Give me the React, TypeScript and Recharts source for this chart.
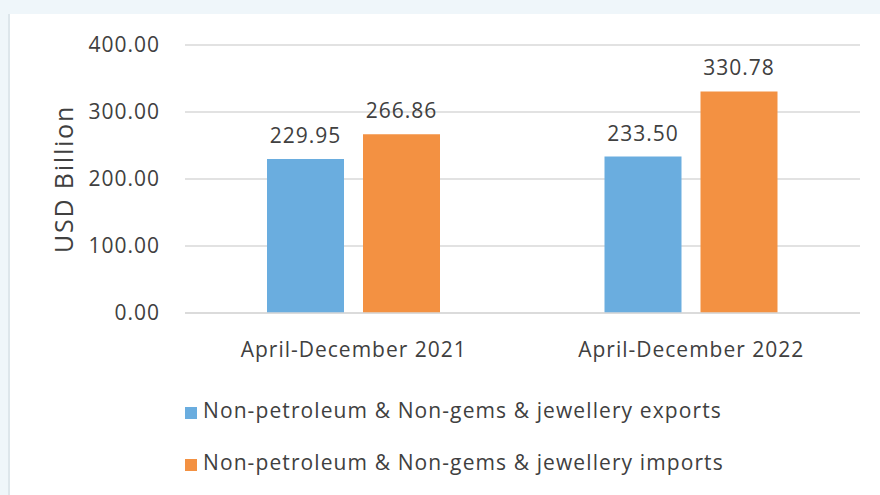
import React from 'react';
import { BarChart, Bar, XAxis, YAxis, CartesianGrid, LabelList, Legend, Label } from 'recharts';

const periods = ['April-December 2021', 'April-December 2022'];
const exportsValues = [229.95, 233.5];
const importsValues = [266.86, 330.78];
const yTicks = [0, 100, 200, 300, 400];
const seriesNames = [
  'Non-petroleum & Non-gems & jewellery exports',
  'Non-petroleum & Non-gems & jewellery imports',
];

const BLUE = '#6aaddf';
const ORANGE = '#f39142';
const TEXT = '#404040';
const FONT = '"Open Sans", sans-serif';
const textStyle = { fill: TEXT, fontSize: 21, fontFamily: FONT, letterSpacing: 1 };

const data = periods.map((p, i) => ({
  period: p,
  exports: exportsValues[i],
  imports: importsValues[i],
}));

const LegendBox = () => {
  const colors = [BLUE, ORANGE];
  return (
    <div style={{ fontFamily: FONT, fontSize: 21, letterSpacing: 1.1, color: TEXT }}>
      {seriesNames.map((name, i) => (
        <div key={name} style={{ display: 'flex', alignItems: 'center', height: 52 }}>
          <span
            style={{
              display: 'inline-block',
              width: 12,
              height: 12,
              background: colors[i],
              marginRight: 6,
              marginTop: 6,
            }}
          />
          <span>{name}</span>
        </div>
      ))}
    </div>
  );
};

const App: React.FC = () => {
  return (
    <div style={{ position: 'fixed', top: 0, left: 0, width: 880, height: 495, background: '#eff6fa' }}>
      {/* white panel */}
      <div
        style={{
          position: 'absolute',
          left: 8,
          top: 14,
          width: 872,
          height: 481,
          background: '#fff',
          borderLeft: '2px solid #dde6eb',
        }}
      />
      <div style={{ position: 'absolute', left: 0, top: 0 }}>
        <BarChart
          width={880}
          height={495}
          data={data}
          margin={{ top: 45, right: 20, bottom: 132, left: 0 }}
          barSize={77}
          barGap={19}
        >
          <CartesianGrid vertical={false} stroke="#d9d9d9" strokeWidth={1.5} />
          <XAxis
            dataKey="period"
            height={50}
            tickLine={false}
            tickSize={0}
            tickMargin={29}
            axisLine={{ stroke: '#d9d9d9', strokeWidth: 1.5 }}
            tick={textStyle}
          />
          <YAxis
            width={185}
            domain={[0, 400]}
            ticks={yTicks}
            tickFormatter={(v: number) => v.toFixed(2)}
            axisLine={false}
            tickLine={false}
            tickSize={0}
            tickMargin={25}
            tick={textStyle}
          >
            <Label
              value="USD Billion"
              angle={-90}
              position="center"
              dx={-28}
              style={{ fill: TEXT, fontSize: 25, fontFamily: FONT, letterSpacing: 1.8 }}
            />
          </YAxis>
          <Legend
            layout="vertical"
            align="center"
            verticalAlign="middle"
            content={<LegendBox />}
            wrapperStyle={{ top: 384, left: 185, width: 620 }}
          />
          <Bar dataKey="exports" name={seriesNames[0]} fill={BLUE} isAnimationActive={false}>
            <LabelList
              dataKey="exports"
              position="top"
              offset={16}
              formatter={(v: number) => v.toFixed(2)}
              style={textStyle}
            />
          </Bar>
          <Bar dataKey="imports" name={seriesNames[1]} fill={ORANGE} isAnimationActive={false}>
            <LabelList
              dataKey="imports"
              position="top"
              offset={16}
              formatter={(v: number) => v.toFixed(2)}
              style={textStyle}
            />
          </Bar>
        </BarChart>
      </div>
    </div>
  );
};

export default App;
